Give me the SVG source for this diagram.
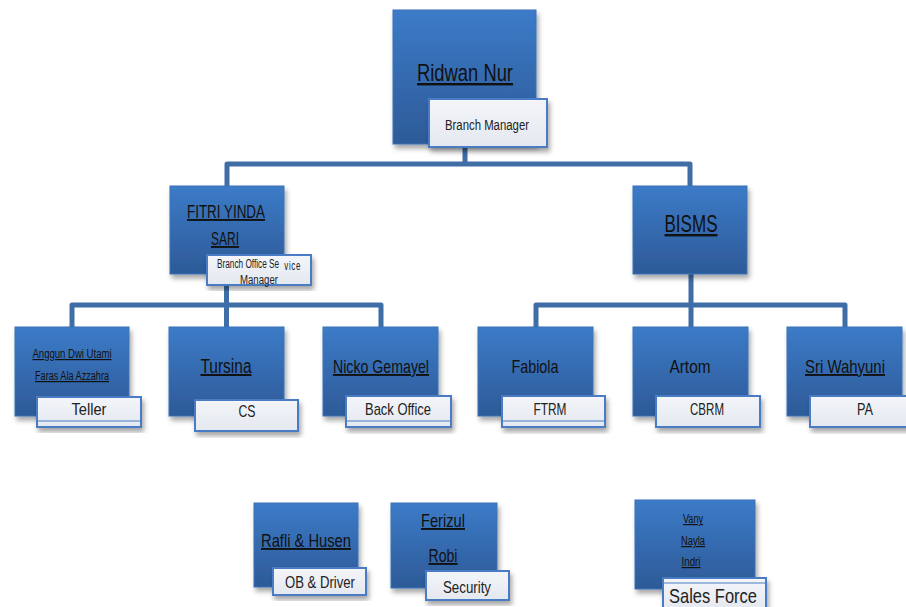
<svg xmlns="http://www.w3.org/2000/svg" width="906" height="607" viewBox="0 0 906 607">
<defs>
<linearGradient id="bg" x1="0" y1="0" x2="0" y2="1">
<stop offset="0" stop-color="#3c7bc8"/>
<stop offset="1" stop-color="#2d5a97"/>
</linearGradient>
<linearGradient id="lg" x1="0" y1="0" x2="0" y2="1">
<stop offset="0" stop-color="#f3f5f9"/>
<stop offset="1" stop-color="#e4e8ef"/>
</linearGradient>
<filter id="sh" x="-10%" y="-10%" width="130%" height="130%">
<feDropShadow dx="2" dy="4" stdDeviation="2.5" flood-color="#000" flood-opacity="0.35"/>
</filter>
</defs>
<style>
.box{fill:url(#bg);stroke:#3a72b8;stroke-width:1;filter:url(#sh)}
.lab{fill:url(#lg);stroke:#4a7cc4;stroke-width:2;filter:url(#sh)}
.conn{fill:none;stroke:#3f6ea6;stroke-width:5;stroke-linejoin:round}
.nm{font-family:"Liberation Sans Narrow","Liberation Sans",sans-serif;fill:#111;text-anchor:middle;text-decoration:underline}
.nu{font-family:"Liberation Sans Narrow","Liberation Sans",sans-serif;fill:#111;text-anchor:middle}
.lt{font-family:"Liberation Sans Narrow","Liberation Sans",sans-serif;fill:#222;text-anchor:middle}
</style>
<rect width="906" height="607" fill="#fff"/>
<g id="connectors">
<path class="conn" d="M465 147 V164 M227 186 V164 H690 V186"/>
<path class="conn" d="M226.5 275 V305 M72 327 V305 H381 V327 M226.5 305 V327"/>
<path class="conn" d="M691 274 V305 M536 327 V305 H845 V327 M691 305 V327"/>
</g>
<g id="ridwan">
<rect class="box" x="393" y="10" width="143" height="134"/>
<text class="nm" x="465" y="81" font-size="24" textLength="96" lengthAdjust="spacingAndGlyphs">Ridwan Nur</text>
<rect class="lab" x="429" y="99" width="118" height="48"/>
<text class="lt" x="487" y="130" font-size="14" textLength="84" lengthAdjust="spacingAndGlyphs">Branch Manager</text>
</g>
<g id="fitri">
<rect class="box" x="170" y="186" width="114" height="88"/>
<text class="nm" x="226" y="218" font-size="19" textLength="78" lengthAdjust="spacingAndGlyphs">FITRI YINDA</text>
<text class="nm" x="225" y="245" font-size="19" textLength="28" lengthAdjust="spacingAndGlyphs">SARI</text>
<rect class="lab" x="207" y="255" width="104" height="30"/>
<text transform="translate(217,268) scale(0.66,1)" font-family="Liberation Sans, sans-serif" font-size="12.5" fill="#222">Branch Office Se<tspan x="102" y="2" font-size="12" letter-spacing="1">vice</tspan></text>
<text class="lt" x="259" y="284" font-size="12" textLength="38" lengthAdjust="spacingAndGlyphs">Manager</text>
</g>
<g id="bisms">
<rect class="box" x="633" y="186" width="114" height="88"/>
<text class="nm" x="691" y="232" font-size="24" textLength="53" lengthAdjust="spacingAndGlyphs">BISMS</text>
</g>
<g id="teller">
<rect class="box" x="15" y="327" width="114" height="89"/>
<text class="nm" x="72" y="358" font-size="12" textLength="79" lengthAdjust="spacingAndGlyphs">Anggun Dwi Utami</text>
<text class="nm" x="72" y="380" font-size="12" textLength="74" lengthAdjust="spacingAndGlyphs">Faras Ala Azzahra</text>
<rect class="lab" x="37" y="397" width="104" height="30"/>
<line x1="38" y1="421" x2="140" y2="421" stroke="#4a7cc4" stroke-width="1"/>
<text class="lt" x="89" y="415" font-size="17" textLength="35" lengthAdjust="spacingAndGlyphs">Teller</text>
</g>
<g id="tursina">
<rect class="box" x="169" y="327" width="115" height="89"/>
<text class="nm" x="226" y="373" font-size="20" textLength="51" lengthAdjust="spacingAndGlyphs">Tursina</text>
<rect class="lab" x="195" y="400" width="103" height="31"/>
<text class="lt" x="247" y="417" font-size="17" textLength="17" lengthAdjust="spacingAndGlyphs">CS</text>
</g>
<g id="nicko">
<rect class="box" x="323" y="327" width="115" height="89"/>
<text class="nm" x="381" y="373" font-size="19" textLength="96" lengthAdjust="spacingAndGlyphs">Nicko Gemayel</text>
<rect class="lab" x="346" y="396" width="105" height="31"/>
<line x1="347" y1="421" x2="450" y2="421" stroke="#4a7cc4" stroke-width="1"/>
<text class="lt" x="398" y="415" font-size="17" textLength="66" lengthAdjust="spacingAndGlyphs">Back Office</text>
</g>
<g id="fabiola">
<rect class="box" x="478" y="327" width="115" height="89"/>
<text class="nu" x="535" y="373" font-size="19" textLength="47" lengthAdjust="spacingAndGlyphs">Fabiola</text>
<rect class="lab" x="502" y="396" width="103" height="31"/>
<line x1="503" y1="421" x2="604" y2="421" stroke="#4a7cc4" stroke-width="1"/>
<text class="lt" x="550" y="415" font-size="17" textLength="33" lengthAdjust="spacingAndGlyphs">FTRM</text>
</g>
<g id="artom">
<rect class="box" x="633" y="327" width="115" height="89"/>
<text class="nu" x="690" y="373" font-size="19" textLength="41" lengthAdjust="spacingAndGlyphs">Artom</text>
<rect class="lab" x="656" y="396" width="104" height="31"/>
<text class="lt" x="707" y="415" font-size="17" textLength="34" lengthAdjust="spacingAndGlyphs">CBRM</text>
</g>
<g id="sri">
<rect class="box" x="787" y="327" width="115" height="89"/>
<text class="nm" x="845" y="373" font-size="19" textLength="80" lengthAdjust="spacingAndGlyphs">Sri Wahyuni</text>
<rect class="lab" x="810" y="396" width="100" height="31"/>
<text class="lt" x="865" y="415" font-size="17" textLength="16" lengthAdjust="spacingAndGlyphs">PA</text>
</g>
<g id="rafli">
<rect class="box" x="254" y="503" width="104" height="84"/>
<text class="nm" x="306" y="547" font-size="19" textLength="90" lengthAdjust="spacingAndGlyphs">Rafli &amp; Husen</text>
<rect class="lab" x="273" y="568" width="93" height="27"/>
<text class="lt" x="320" y="588" font-size="17" textLength="70" lengthAdjust="spacingAndGlyphs">OB &amp; Driver</text>
</g>
<g id="ferizul">
<rect class="box" x="391" y="503" width="106" height="85"/>
<text class="nm" x="443" y="527" font-size="19" textLength="44" lengthAdjust="spacingAndGlyphs">Ferizul</text>
<text class="nm" x="443" y="562" font-size="19" textLength="29" lengthAdjust="spacingAndGlyphs">Robi</text>
<rect class="lab" x="426" y="571" width="83" height="29"/>
<text class="lt" x="467" y="593" font-size="17" textLength="48" lengthAdjust="spacingAndGlyphs">Security</text>
</g>
<g id="sales">
<rect class="box" x="635" y="500" width="120" height="89"/>
<text class="nm" x="693" y="523" font-size="12" textLength="20" lengthAdjust="spacingAndGlyphs">Vany</text>
<text class="nm" x="693" y="545" font-size="12" textLength="24" lengthAdjust="spacingAndGlyphs">Nayla</text>
<text class="nm" x="691" y="566" font-size="12" textLength="19" lengthAdjust="spacingAndGlyphs">Indri</text>
<rect class="lab" x="663" y="578" width="103" height="34"/>
<line x1="664" y1="583" x2="765" y2="583" stroke="#4a7cc4" stroke-width="1"/>
<text class="lt" x="713" y="603" font-size="21" textLength="88" lengthAdjust="spacingAndGlyphs" fill="#111">Sales Force</text>
</g>
</svg>
